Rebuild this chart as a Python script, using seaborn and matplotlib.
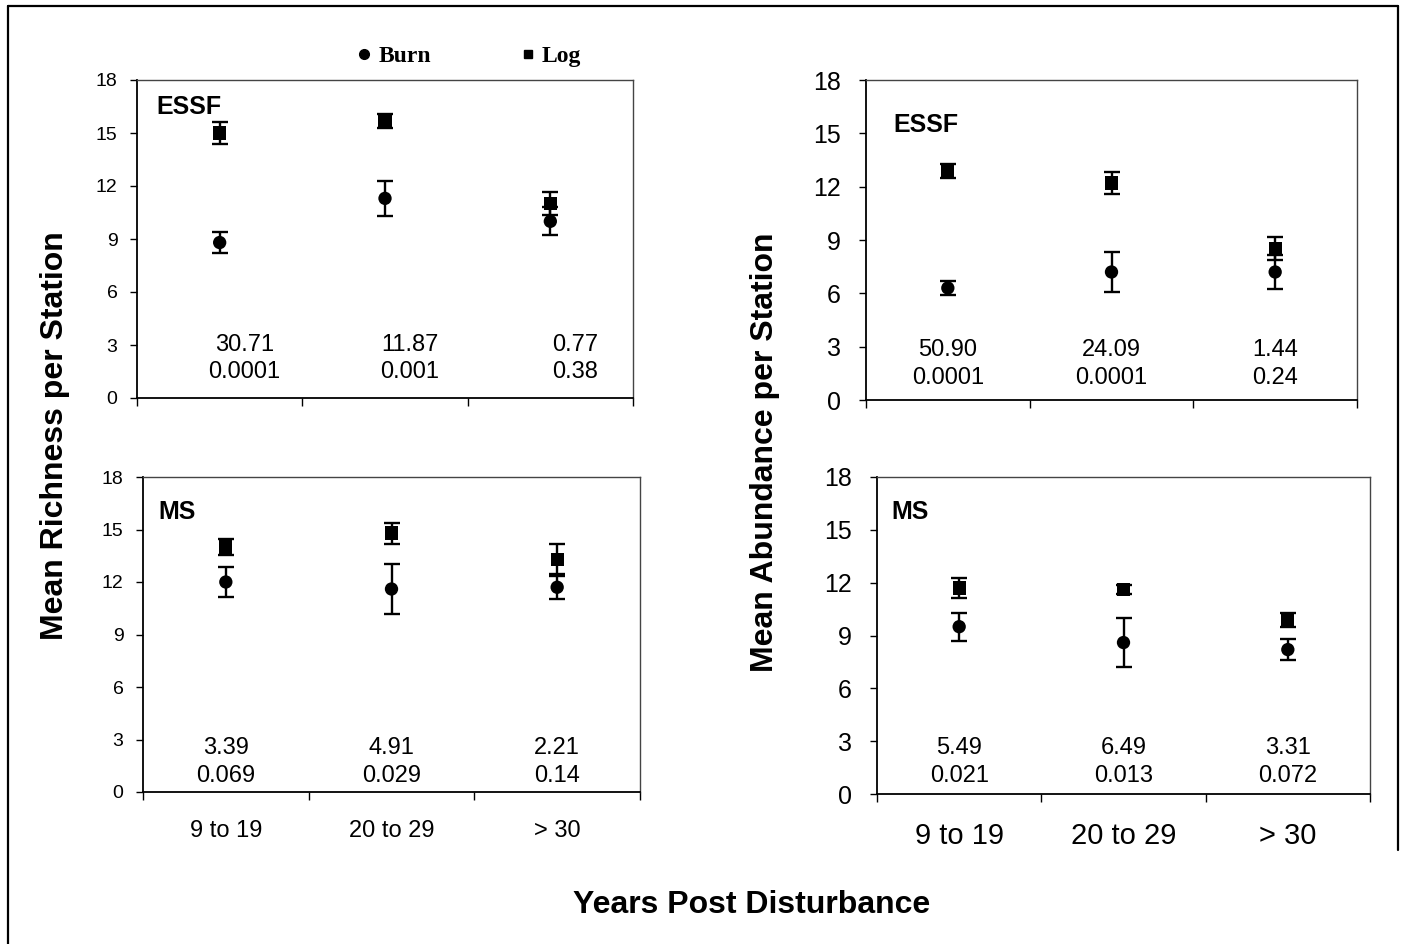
import numpy as np
import pandas as pd
import matplotlib
matplotlib.use("Agg")
import matplotlib.pyplot as plt
import seaborn as sns
from matplotlib.lines import Line2D

# ---- data ----
categories = ["9 to 19", "20 to 29", "> 30"]

# Mean richness per station, ESSF
rich_essf_burn = [8.8, 11.3, 10.0]
rich_essf_burn_err = [0.6, 1.0, 0.8]
rich_essf_log = [15.0, 15.7, 11.0]
rich_essf_log_err = [0.6, 0.4, 0.65]
rich_essf_F = ["30.71", "11.87", "0.77"]
rich_essf_p = ["0.0001", "0.001", "0.38"]

# Mean richness per station, MS
rich_ms_burn = [12.0, 11.6, 11.7]
rich_ms_burn_err = [0.85, 1.45, 0.65]
rich_ms_log = [14.0, 14.8, 13.3]
rich_ms_log_err = [0.45, 0.6, 0.85]
rich_ms_F = ["3.39", "4.91", "2.21"]
rich_ms_p = ["0.069", "0.029", "0.14"]

# Mean abundance per station, ESSF
abun_essf_burn = [6.3, 7.2, 7.2]
abun_essf_burn_err = [0.4, 1.15, 0.95]
abun_essf_log = [12.9, 12.2, 8.5]
abun_essf_log_err = [0.4, 0.6, 0.65]
abun_essf_F = ["50.90", "24.09", "1.44"]
abun_essf_p = ["0.0001", "0.0001", "0.24"]

# Mean abundance per station, MS
abun_ms_burn = [9.5, 8.6, 8.2]
abun_ms_burn_err = [0.8, 1.4, 0.6]
abun_ms_log = [11.7, 11.6, 9.9]
abun_ms_log_err = [0.55, 0.25, 0.4]
abun_ms_F = ["5.49", "6.49", "3.31"]
abun_ms_p = ["0.021", "0.013", "0.072"]

sns.set_theme(style="ticks")
plt.rcParams["font.family"] = ["Liberation Sans", "DejaVu Sans"]
for key in ["text.color", "axes.labelcolor", "xtick.color", "ytick.color",
            "axes.edgecolor"]:
    plt.rcParams[key] = "black"

W, H = 1404, 944
fig = plt.figure(figsize=(W / 100, H / 100), dpi=100)


def px_rect(left, right, top, bottom):
    return [left / W, 1 - bottom / H, (right - left) / W, (bottom - top) / H]


def panel(rect, burn, burn_err, log, log_err, F, p, name, name_pos,
          ytick_fs, ypad, text_y, text_dx, show_x, xfs):
    ax = fig.add_axes(rect)
    xpos = np.arange(len(categories)) + 0.5
    df = pd.DataFrame({
        "x": np.concatenate([xpos, xpos]),
        "y": burn + log,
        "err": burn_err + log_err,
        "Treatment": ["Burn"] * 3 + ["Log"] * 3,
    })
    ax.errorbar(df["x"], df["y"], yerr=df["err"], fmt="none", ecolor="black",
                elinewidth=1.7, capsize=5.5, capthick=1.7, zorder=2)
    sns.scatterplot(data=df, x="x", y="y", style="Treatment",
                    markers={"Burn": "o", "Log": "s"}, color="black",
                    s=92, edgecolor="black", linewidth=0, legend=False,
                    ax=ax, zorder=3)
    for i in range(len(categories)):
        ax.text(xpos[i] + text_dx, text_y[0], F[i], ha="center", va="center",
                fontsize=17)
        ax.text(xpos[i] + text_dx, text_y[1], p[i], ha="center", va="center",
                fontsize=17)
    ax.text(name_pos[0], name_pos[1], name, transform=ax.transAxes,
            ha="left", va="center", fontsize=18, fontweight="bold")
    ax.set_xlim(0, 3)
    ax.set_ylim(0, 18)
    ax.set_yticks(np.arange(0, 19, 3))
    ax.set_xticks([0, 1, 2, 3])
    ax.set_xticklabels([])
    ax.set_xticks(xpos, minor=True)
    if show_x:
        ax.set_xticklabels(categories, minor=True, fontsize=xfs)
    ax.tick_params(axis="x", which="minor", length=0, pad=20)
    ax.tick_params(axis="x", which="major", length=6, width=1, direction="out")
    ax.tick_params(axis="y", labelsize=ytick_fs, length=5, width=1,
                   direction="out", pad=ypad)
    ax.set_xlabel("")
    ax.set_ylabel("")
    for side in ["left", "bottom"]:
        ax.spines[side].set_linewidth(1.3)
    for side in ["top", "right"]:
        ax.spines[side].set_visible(True)
        ax.spines[side].set_color("#444444")
        ax.spines[side].set_linewidth(1.0)
    return ax


panel(px_rect(137, 633, 80, 398), rich_essf_burn, rich_essf_burn_err,
      rich_essf_log, rich_essf_log_err, rich_essf_F, rich_essf_p, "ESSF",
      (0.04, 0.915), 14, 9, (3.0, 1.45), 0.15, False, 17)
panel(px_rect(143, 640, 477, 792), rich_ms_burn, rich_ms_burn_err,
      rich_ms_log, rich_ms_log_err, rich_ms_F, rich_ms_p, "MS",
      (0.03, 0.89), 14, 9, (2.5, 0.9), 0.0, True, 17)
panel(px_rect(866, 1357, 80, 400), abun_essf_burn, abun_essf_burn_err,
      abun_essf_log, abun_essf_log_err, abun_essf_F, abun_essf_p, "ESSF",
      (0.055, 0.86), 18, 13, (2.8, 1.25), 0.0, False, 21)
panel(px_rect(877, 1370, 477, 794), abun_ms_burn, abun_ms_burn_err,
      abun_ms_log, abun_ms_log_err, abun_ms_F, abun_ms_p, "MS",
      (0.03, 0.89), 18, 13, (2.6, 1.0), 0.0, True, 21)

fig.text(55 / W, 1 - 436 / H, "Mean Richness per Station", rotation=90,
         ha="center", va="center", fontsize=23, fontweight="bold")
fig.text(765 / W, 1 - 452 / H, "Mean Abundance per Station", rotation=90,
         ha="center", va="center", fontsize=23, fontweight="bold")
fig.text(752 / W, 1 - 905 / H, "Years Post Disturbance", ha="center",
         va="center", fontsize=23, fontweight="bold")

handles = [
    Line2D([], [], marker="o", linestyle="none", color="black", markersize=7),
    Line2D([], [], marker="s", linestyle="none", color="black", markersize=6),
]
fig.legend(handles, ["Burn", "Log"], loc="center", ncol=2,
           bbox_to_anchor=(467 / W, 1 - 56 / H), frameon=False,
           prop={"family": ["Liberation Serif"], "weight": "bold", "size": 17},
           handletextpad=0.1, columnspacing=3.6, handlelength=1.0)

# outer frame of the original page
frame_kw = dict(color="black", linewidth=1.6, transform=fig.transFigure)
fig.add_artist(Line2D([8 / W, 1398 / W], [1 - 6 / H, 1 - 6 / H], **frame_kw))
fig.add_artist(Line2D([8 / W, 8 / W], [1 - 6 / H, 0], **frame_kw))
fig.add_artist(Line2D([1398 / W, 1398 / W], [1 - 6 / H, 1 - 850 / H],
                      **frame_kw))

fig.savefig("out.png", dpi=100, facecolor="white")
